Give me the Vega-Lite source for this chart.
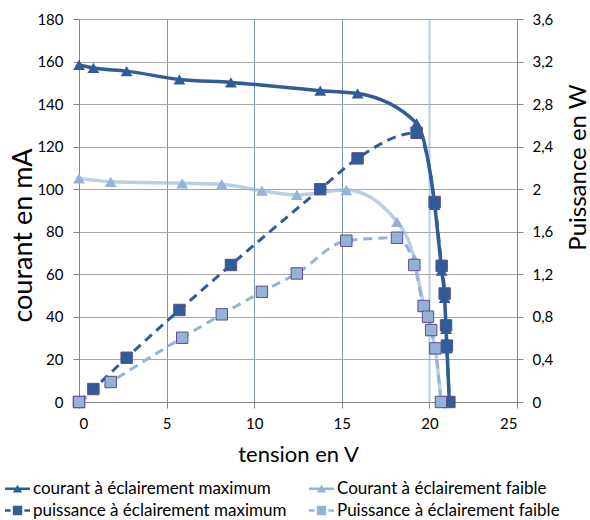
{
  "$schema": "https://vega.github.io/schema/vega-lite/v6.json",
  "width": 438,
  "height": 383,
  "autosize": "none",
  "padding": {"left": 79, "top": 19, "right": 73, "bottom": 118},
  "config": {
    "font": "Lato",
    "view": {"stroke": null},
    "axis": {
      "labelFont": "Lato",
      "titleFont": "Lato",
      "labelFontSize": 15,
      "labelColor": "#000000",
      "titleColor": "#000000",
      "titleFontWeight": "normal",
      "domainColor": "#868686",
      "tickColor": "#868686",
      "gridColor": "#A6A6A6",
      "tickSize": 6
    },
    "legend": {
      "labelFont": "Lato",
      "labelFontSize": 17,
      "labelColor": "#000000",
      "labelLimit": 0
    }
  },
  "datasets": {
    "courant": [
      {"serie": "courant à éclairement maximum", "V": 0, "I": 158.4},
      {"serie": "courant à éclairement maximum", "V": 0.82, "I": 157},
      {"serie": "courant à éclairement maximum", "V": 2.72, "I": 155.5},
      {"serie": "courant à éclairement maximum", "V": 5.73, "I": 151.6},
      {"serie": "courant à éclairement maximum", "V": 8.67, "I": 150.2},
      {"serie": "courant à éclairement maximum", "V": 13.77, "I": 146.3},
      {"serie": "courant à éclairement maximum", "V": 15.9, "I": 145},
      {"serie": "courant à éclairement maximum", "V": 19.27, "I": 131},
      {"serie": "courant à éclairement maximum", "V": 20.3, "I": 92.6},
      {"serie": "courant à éclairement maximum", "V": 20.7, "I": 61.8},
      {"serie": "courant à éclairement maximum", "V": 20.87, "I": 48.9},
      {"serie": "courant à éclairement maximum", "V": 20.95, "I": 34.4},
      {"serie": "courant à éclairement maximum", "V": 21.0, "I": 25.2},
      {"serie": "courant à éclairement maximum", "V": 21.14, "I": 0},
      {"serie": "Courant à éclairement faible", "V": 0, "I": 105.1},
      {"serie": "Courant à éclairement faible", "V": 1.81, "I": 103.5},
      {"serie": "Courant à éclairement faible", "V": 5.89, "I": 102.8},
      {"serie": "Courant à éclairement faible", "V": 8.15, "I": 102.3},
      {"serie": "Courant à éclairement faible", "V": 10.44, "I": 99.3},
      {"serie": "Courant à éclairement faible", "V": 12.43, "I": 97.3},
      {"serie": "Courant à éclairement faible", "V": 15.26, "I": 99.6},
      {"serie": "Courant à éclairement faible", "V": 18.15, "I": 84.7},
      {"serie": "Courant à éclairement faible", "V": 19.14, "I": 67.3},
      {"serie": "Courant à éclairement faible", "V": 19.67, "I": 45.9},
      {"serie": "Courant à éclairement faible", "V": 19.92, "I": 40.3},
      {"serie": "Courant à éclairement faible", "V": 20.1, "I": 33.6},
      {"serie": "Courant à éclairement faible", "V": 20.34, "I": 24.8},
      {"serie": "Courant à éclairement faible", "V": 20.66, "I": 0}
    ],
    "puissance": [
      {"serie": "puissance à éclairement maximum", "V": 0, "P": 0},
      {"serie": "puissance à éclairement maximum", "V": 0.82, "P": 0.122},
      {"serie": "puissance à éclairement maximum", "V": 2.72, "P": 0.416},
      {"serie": "puissance à éclairement maximum", "V": 5.73, "P": 0.865},
      {"serie": "puissance à éclairement maximum", "V": 8.67, "P": 1.288},
      {"serie": "puissance à éclairement maximum", "V": 13.77, "P": 2.0},
      {"serie": "puissance à éclairement maximum", "V": 15.9, "P": 2.29},
      {"serie": "puissance à éclairement maximum", "V": 19.27, "P": 2.53},
      {"serie": "puissance à éclairement maximum", "V": 20.3, "P": 1.88},
      {"serie": "puissance à éclairement maximum", "V": 20.7, "P": 1.28},
      {"serie": "puissance à éclairement maximum", "V": 20.87, "P": 1.02},
      {"serie": "puissance à éclairement maximum", "V": 20.95, "P": 0.72},
      {"serie": "puissance à éclairement maximum", "V": 21.0, "P": 0.53},
      {"serie": "puissance à éclairement maximum", "V": 21.14, "P": 0},
      {"serie": "Puissance à éclairement faible", "V": 0, "P": 0},
      {"serie": "Puissance à éclairement faible", "V": 1.81, "P": 0.188},
      {"serie": "Puissance à éclairement faible", "V": 5.89, "P": 0.604},
      {"serie": "Puissance à éclairement faible", "V": 8.15, "P": 0.824},
      {"serie": "Puissance à éclairement faible", "V": 10.44, "P": 1.036},
      {"serie": "Puissance à éclairement faible", "V": 12.43, "P": 1.208},
      {"serie": "Puissance à éclairement faible", "V": 15.26, "P": 1.516},
      {"serie": "Puissance à éclairement faible", "V": 18.15, "P": 1.544},
      {"serie": "Puissance à éclairement faible", "V": 19.14, "P": 1.288},
      {"serie": "Puissance à éclairement faible", "V": 19.67, "P": 0.902},
      {"serie": "Puissance à éclairement faible", "V": 19.92, "P": 0.802},
      {"serie": "Puissance à éclairement faible", "V": 20.1, "P": 0.676},
      {"serie": "Puissance à éclairement faible", "V": 20.34, "P": 0.504},
      {"serie": "Puissance à éclairement faible", "V": 20.66, "P": 0}
    ]
  },
  "layer": [
    {
      "data": {"name": "courant"},
      "encoding": {
        "x": {
          "field": "V", "type": "quantitative",
          "scale": {"domain": [0, 25], "nice": false},
          "axis": {
            "values": [0, 5, 10, 15, 20, 25],
            "grid": true,
            "gridColor": {"condition": {"test": "datum.value == 20", "value": "#B9CDE5"}, "value": "#7C95B7"},
            "gridWidth": {"condition": {"test": "datum.value == 20", "value": 2}, "value": 1},
            "title": "tension en V",
            "titleFontSize": 22,
            "titleY": 52,
            "titleBaseline": "middle",
            "labelPadding": 8
          }
        },
        "y": {
          "field": "I", "type": "quantitative",
          "scale": {"domain": [0, 180], "nice": false},
          "axis": {
            "values": [0, 20, 40, 60, 80, 100, 120, 140, 160, 180],
            "grid": true,
            "title": "courant en mA",
            "titleFontSize": 27,
            "titleX": -48,
            "titleY": 216,
            "titleAngle": 270,
            "titleBaseline": "alphabetic",
            "titleAlign": "center",
            "labelPadding": 10
          }
        }
      },
      "layer": [
        {
          "mark": {"type": "line", "interpolate": "monotone", "strokeWidth": 3.5},
          "encoding": {
            "color": {"field": "serie", "type": "nominal",
              "scale": {
                "domain": ["courant à éclairement maximum", "Courant à éclairement faible", "puissance à éclairement maximum", "Puissance à éclairement faible"],
                "range": ["#2F5D98", "#95B3D7", "#2F5D98", "#95B3D7"]
              }},
            "opacity": {"condition": {"test": "datum.serie == 'Courant à éclairement faible'", "value": 0.65}, "value": 1}
          }
        },
        {
          "mark": {"type": "point", "shape": "triangle-up", "filled": true, "size": 140, "opacity": 1},
          "encoding": {
            "color": {"field": "serie", "type": "nominal"}
          }
        },
        {
          "mark": {"type": "point", "filled": true, "opacity": 0},
          "encoding": {
            "color": {"field": "serie", "type": "nominal",
              "legend": {
                "title": null,
                "orient": "none",
                "legendX": -70,
                "legendY": 461,
                "columns": 2,
                "direction": "horizontal",
                "columnPadding": 22,
                "rowPadding": 4,
                "symbolSize": 156,
                "symbolOpacity": 1,
                "symbolStrokeWidth": 0,
                "symbolDash": [1, 0],
                "labelOffset": 7,
                "labelLimit": 0
              }},
            "shape": {"field": "serie", "type": "nominal",
              "scale": {
                "domain": ["courant à éclairement maximum", "Courant à éclairement faible", "puissance à éclairement maximum", "Puissance à éclairement faible"],
                "range": [
                  "M-2,-0.2H2V0.2H-2Z M0,-0.65L0.75,0.6H-0.75Z",
                  "M-2,-0.2H2V0.2H-2Z M0,-0.65L0.75,0.6H-0.75Z",
                  "M-2,-0.2H-1.1V0.2H-2Z M1.1,-0.2H2V0.2H1.1Z M-0.75,-0.75H0.75V0.75H-0.75Z",
                  "M-2,-0.2H-1.1V0.2H-2Z M1.1,-0.2H2V0.2H1.1Z M-0.75,-0.75H0.75V0.75H-0.75Z"
                ]
              },
              "legend": {
                "title": null,
                "orient": "none",
                "legendX": -70,
                "legendY": 461,
                "columns": 2,
                "direction": "horizontal",
                "columnPadding": 22,
                "rowPadding": 4,
                "symbolSize": 156,
                "symbolOpacity": 1,
                "symbolStrokeWidth": 0,
                "symbolDash": [1, 0],
                "labelOffset": 7,
                "labelLimit": 0
              }}
          }
        }
      ]
    },
    {
      "data": {"name": "puissance"},
      "encoding": {
        "x": {"field": "V", "type": "quantitative"},
        "y": {
          "field": "P", "type": "quantitative",
          "scale": {"domain": [0, 3.6], "nice": false},
          "axis": {
            "orient": "right",
            "values": [0, 0.4, 0.8, 1.2, 1.6, 2, 2.4, 2.8, 3.2, 3.6],
            "labelExpr": "replace(format(datum.value, '~g'), '.', ',')",
            "grid": false,
            "title": "Puissance en W",
            "titleFontSize": 24,
            "titleX": 68,
            "titleY": 148,
            "titleAngle": 270,
            "titleBaseline": "alphabetic",
            "titleAlign": "center",
            "labelPadding": 9
          }
        }
      },
      "layer": [
        {
          "mark": {"type": "line", "interpolate": "monotone", "strokeWidth": 3, "strokeDash": [9, 6]},
          "encoding": {
            "color": {"field": "serie", "type": "nominal"}
          }
        },
        {
          "mark": {"type": "point", "shape": "square", "filled": true, "size": 130, "opacity": 1, "stroke": "#5F4A8B", "strokeWidth": 1},
          "encoding": {
            "color": {"field": "serie", "type": "nominal"}
          }
        },
        {
          "mark": {"type": "point", "filled": true, "opacity": 0},
          "encoding": {
            "color": {"field": "serie", "type": "nominal"},
            "shape": {"field": "serie", "type": "nominal"}
          }
        }
      ]
    }
  ],
  "resolve": {"scale": {"y": "independent"}}
}
